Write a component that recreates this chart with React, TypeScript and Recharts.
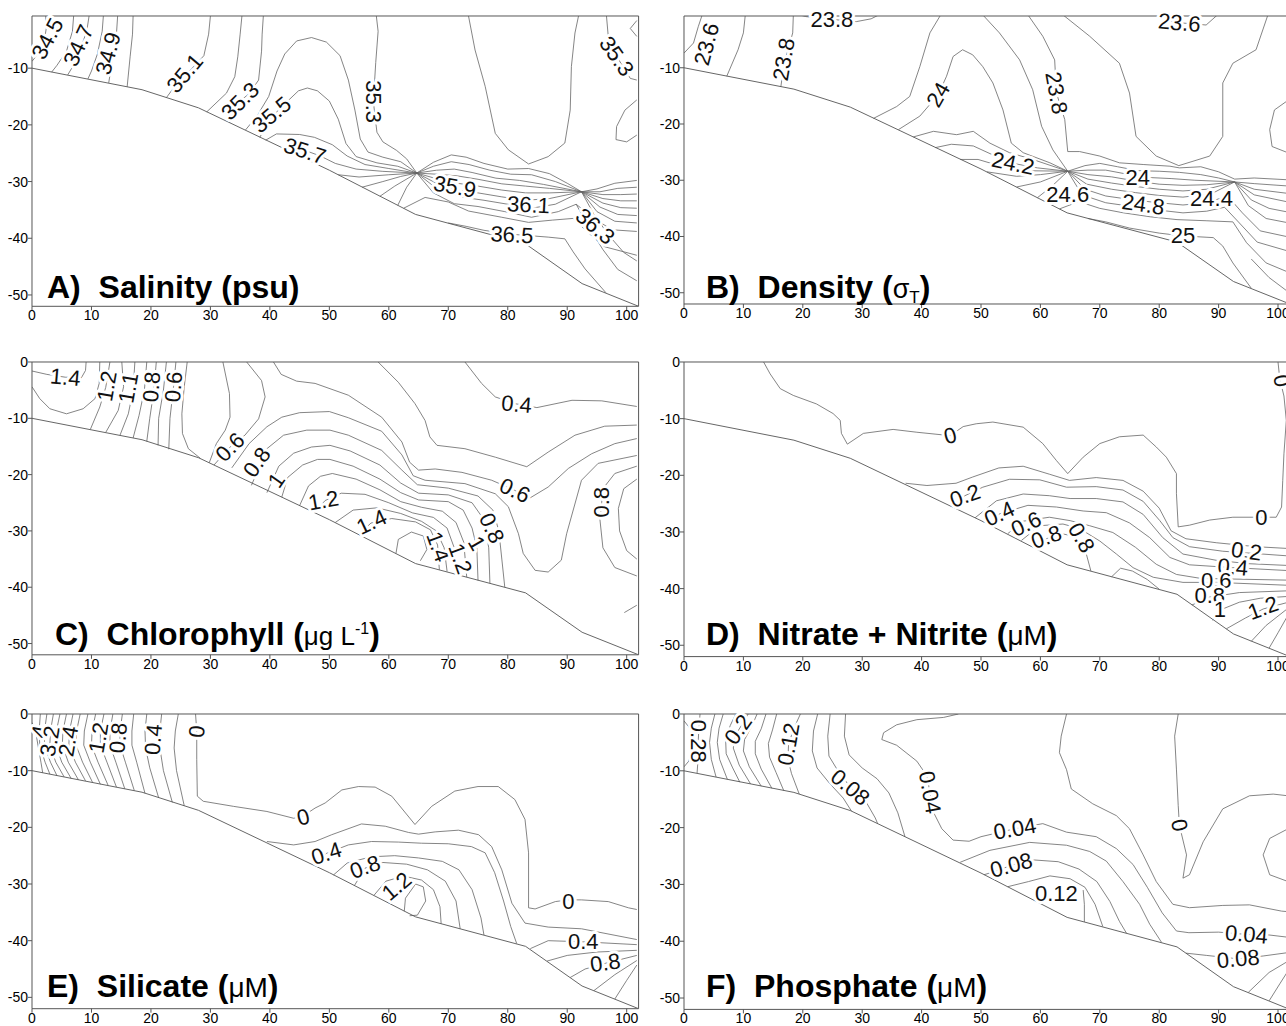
import React from 'react';
import { LineChart, Line, XAxis, YAxis, ReferenceDot } from 'recharts';

type Pt = [number, number];
// [label text, distance, depth, rotation in degrees]
type Tag = [string, number, number, number];

const distanceTicks = [0, 10, 20, 30, 40, 50, 60, 70, 80, 90, 100];
const upperDepthTicks = [-50, -40, -30, -20, -10];
const depthTicks = [-50, -40, -30, -20, -10, 0];

// Sea floor along the transect (distance, depth)
const seafloor: Pt[] = [[0, -10], [18.5, -13.8], [28, -17], [50, -28], [64.5, -35.8], [83, -41], [92.5, -48], [102, -52]];

// ---------- A) Salinity ----------
const salinityContours: Pt[][] = [
  [[2.3, -0.8], [2.4, -3], [2.0, -5.5], [1.0, -7.5], [0, -8.8]],
  [[7.0, -0.8], [6.8, -3.5], [5.8, -7], [4.2, -9.5], [3.3, -10.7]],
  [[9.6, -0.8], [9.2, -3.5], [8.0, -7], [6.8, -9.8], [6.0, -11.2]],
  [[12.0, -0.8], [11.8, -3.5], [11.0, -7.5], [10.0, -10.5], [9.4, -11.9]],
  [[14.4, -0.8], [14.2, -4], [13.6, -8], [12.9, -12.6]],
  [[17.0, -0.8], [16.9, -4], [16.5, -8], [16.0, -13.3]],
  [[30, -0.8], [29.7, -4], [28.9, -7.8], [26.5, -10.5], [24.5, -12.5], [22.6, -15.2]],
  [[35.3, -0.8], [35, -4], [34.6, -8], [34.1, -11.5], [32.7, -14.4], [29.4, -17.7]],
  [[38.9, -0.8], [38.7, -4], [38.6, -7], [38.1, -12.1], [36.5, -14.5], [35, -15.8], [33.8, -17.5], [33.3, -19.6]],
  [[35.9, -20.9], [37.8, -18.5], [39.8, -15], [41.2, -10.5], [42.5, -7.5], [44.5, -5.2], [47, -4.6], [49.5, -5.4], [51.8, -7.8], [53.2, -12.1], [54.3, -17.4], [55.2, -22.5], [56.5, -24.8], [59, -25.7], [62, -26.5], [64.7, -28.5]],
  [[38.3, -22.2], [40.3, -18.6], [42.8, -16], [44.8, -14], [46.3, -13.5], [48, -14], [50, -15.8], [51.5, -19], [52.8, -23.3], [54.5, -25.6], [58, -26.7], [61.5, -27.3], [64.7, -28.5]],
  [[39.3, -22.7], [41.1, -21.6], [45, -21.7], [47.5, -22.2], [50.5, -23.5], [53, -25.5], [56, -27], [60, -27.7], [64.7, -28.5]],
  [[43, -24.5], [45.9, -24.5], [48.5, -25.5], [51, -26.8], [54.5, -27.8], [59, -28.2], [64.7, -28.5]],
  [[51.5, -28.8], [55, -29.2], [60, -28.8], [64.7, -28.5]],
  [[55.5, -31], [59, -30], [62, -29.1], [64.7, -28.5]],
  [[58.5, -32.6], [61, -30.8], [64.7, -28.5]],
  [[61.5, -34.2], [63, -31], [64.7, -28.5]],
  [[57.9, -0.8], [58.2, -3.5], [57.8, -9], [57.4, -15.9], [58, -21.3], [59, -23], [61.3, -24.5], [63, -26], [64.7, -28.5]],
  [[73.4, -0.8], [74.5, -6.8], [76.2, -13.2], [77.9, -21.5], [80.1, -24.4], [83.5, -26.9], [86.8, -25.6], [89.6, -23.2], [90.5, -17.4], [90.7, -9.7], [91.3, -3.8], [91.9, -0.8]],
  [[64.7, -28.5], [67.5, -26.6], [70.5, -25.3], [73, -25.7], [76, -26.8], [80, -27.8], [83.5, -27.7], [87, -28.6], [90, -30.3], [92.4, -31.8], [95, -31.3], [98, -30.3], [101.7, -29.8]],
  [[64.7, -28.5], [67.5, -27.3], [70.5, -26.5], [73.5, -27], [77, -28], [80.5, -28.7], [84, -28.8], [88, -30], [92.4, -31.8], [95.5, -31.8], [98.5, -31.2], [101.7, -31]],
  [[64.7, -28.5], [68, -28], [71, -27.8], [74, -28.4], [78, -29.4], [82, -29.8], [86, -30.5], [92.4, -31.8], [96, -32.3], [99, -32.3], [101.7, -32.2]],
  [[64.7, -28.5], [68, -28.7], [71.5, -29], [75, -29.6], [79, -30.4], [83, -30.8], [87, -31.2], [92.4, -31.8], [96, -33], [99, -33.4], [101.7, -33.4]],
  [[64.7, -28.5], [68, -29.5], [71.5, -30.3], [75, -30.8], [79, -31.5], [83, -32], [87, -32], [92.4, -31.8], [96, -33.8], [99, -34.6], [101.7, -34.7]],
  [[64.7, -28.5], [68, -30.3], [71.5, -31.5], [75, -32], [79, -32.7], [83, -33.3], [87, -33], [92.4, -31.8], [95.5, -34.5], [98.5, -35.8], [101.7, -36]],
  [[64.7, -28.5], [68, -31.2], [72, -32.7], [76, -33.3], [80, -34], [84, -34.7], [88, -34], [92.4, -31.8], [95, -35.3], [98, -37], [101.7, -37.3]],
  [[64.7, -28.5], [67.5, -32], [71, -33.9], [75, -34.4], [79.5, -35.3], [84, -36.3], [88.5, -35.3], [91.5, -34], [94.5, -36.5], [97.5, -38.5], [101.7, -38.8]],
  [[62.5, -34.7], [66.1, -32.8], [70, -33.6], [73.4, -35.2], [79, -36.3], [83.5, -37.2], [87.5, -36.8], [91, -36.5], [93.5, -39], [96.3, -41.5], [101.7, -43]],
  [[70, -37.3], [73, -37.9], [76, -38.6], [80.7, -39.3], [86.8, -39.8], [89.6, -40.1], [91, -42.4], [93, -45.4], [96.5, -49.6]],
  [[92.4, -31.8], [94.5, -35.8], [97, -39.5], [99.5, -42.5], [101.7, -44]],
  [[91.5, -34], [93.5, -37.8], [96, -42], [98.5, -45.5], [101.7, -47.5]],
  [[96.6, -0.8], [96.9, -4.4], [98.3, -7.9], [100.6, -11.8], [101.7, -12.1]],
  [[101.7, -15.6], [99.7, -17.4], [98.3, -20.3], [98.2, -22.6], [100, -23], [101.7, -21.8]],
  [[101.7, -1.6], [100.6, -3], [101.7, -4.4]],
];
const salinityTags: Tag[] = [
  ['34.5', 2.6, -4.8, -62], ['34.7', 7.8, -6.0, -65], ['34.9', 12.8, -7.4, -75],
  ['35.1', 25.7, -10.9, -50], ['35.3', 35.0, -15.8, -45], ['35.5', 40.3, -18.2, -40],
  ['35.7', 45.9, -24.6, 18], ['35.3', 57.4, -15.9, 90], ['35.9', 71.1, -30.9, 10],
  ['36.1', 83.5, -34.1, 3], ['36.5', 80.7, -39.4, 3], ['36.3', 94.7, -37.9, 40],
  ['35.3', 98.3, -7.9, 55],
];

// ---------- B) Density ----------
const densityContours: Pt[][] = [
  [[3, -0.8], [2.4, -2.7], [1.6, -5.6], [0, -7.4]],
  [[10.3, -0.8], [10, -3.8], [9.1, -6.8], [7.2, -11.5]],
  [[18.4, -0.8], [18.3, -3.8], [17.6, -6.5], [16.9, -9], [16.3, -13.4]],
  [[18.8, -0.4], [20.5, -0.9], [24.9, -1.4], [29, -1.8], [31.5, -1.3], [33, -0.5]],
  [[31.9, -19], [35.8, -16.9], [38, -15.1], [39.7, -9.8], [41.4, -3.8], [43.1, -0.8]],
  [[36.1, -21], [39.7, -18.6], [42.8, -14.8], [44.2, -11.5], [45.3, -8], [46.9, -6.8], [48.6, -7.7], [50.3, -9.8], [52, -12.7], [53.7, -17.5], [55.1, -23.4], [57.1, -25.1], [61.6, -26.9], [64.6, -28.4]],
  [[50.3, -0.6], [53.1, -3.8], [56.5, -8.6], [58.7, -13.9], [60.2, -20.4], [62.1, -24.6], [64.6, -28.4]],
  [[57.9, -0.6], [60.4, -4.4], [62.4, -8.6], [62.7, -14.5], [64.1, -19.2], [64.6, -24.9], [66.6, -24.9], [70, -25.7], [73.3, -26.9], [77.3, -27.2], [81.8, -27.5], [83.4, -27.8], [87, -27.6], [90, -28.5], [92.7, -29.8], [96, -29.6], [101.4, -29.9]],
  [[63.8, -0.6], [68.3, -4.4], [73.3, -9.2], [75, -14.5], [76.1, -22.2], [79.5, -25.7], [83.3, -27.4], [88.5, -25.7], [90.7, -22.2], [90.7, -12.7], [92.4, -9.2], [96.3, -6.8], [98.3, -0.6]],
  [[79.5, -0.5], [80.6, -1.5], [83.4, -2.0], [87.9, -2.4], [89.6, -0.8], [90, -0.4]],
  [[101.4, -16], [99.4, -17.5], [98.6, -21], [99, -24], [101.4, -25]],
  [[38.6, -22.3], [42, -21.3], [45.9, -21.9], [48.7, -21.3], [51.5, -23.4], [54.8, -25.1], [58.7, -26.3], [64.6, -28.4]],
  [[42.3, -24.2], [45, -23.6], [48.7, -23.9], [52, -25.5], [55.4, -27], [59.5, -27.8], [64.6, -28.4]],
  [[46.5, -26.3], [49.5, -26.3], [53, -27.4], [57.5, -28.3], [64.6, -28.4]],
  [[51, -28.5], [56, -29.3], [60, -29], [64.6, -28.4]],
  [[56, -31.2], [60, -30.3], [64.6, -28.4]],
  [[59.5, -33.1], [62, -31], [64.6, -28.4]],
  [[64.6, -28.4], [67.5, -27.4], [70, -27], [73, -27.6], [76.5, -28.3], [80, -28.4], [83.4, -28.6], [87, -29], [90, -29.6], [92.7, -30.3], [96, -30.6], [101.4, -31]],
  [[64.6, -28.4], [68, -28.2], [71, -28.2], [74, -28.8], [78, -29.5], [82, -29.7], [86, -30], [92.7, -30.3], [96, -31.6], [101.4, -32.3]],
  [[64.6, -28.4], [68, -29], [72, -29.4], [76.4, -30.2], [80, -30.7], [84, -30.9], [88, -30.8], [92.7, -30.3], [96, -32.6], [101.4, -33.8]],
  [[64.6, -28.4], [68, -29.8], [72, -30.5], [76, -31.1], [80, -31.6], [84, -31.9], [88, -31.6], [92.7, -30.3], [95.5, -33.5], [98.5, -35], [101.4, -35.6]],
  [[64.6, -28.4], [67.8, -30.7], [72, -31.6], [76, -32.2], [80, -32.7], [84, -33], [88.8, -32.4], [92.7, -30.3], [95, -34.5], [98, -36.8], [101.4, -37.5]],
  [[64.6, -28.4], [67.5, -31.6], [71, -32.8], [75, -33.4], [79, -33.9], [84, -34.4], [88, -34], [91.5, -32.8], [94, -35.8], [97, -39], [101.4, -40]],
  [[64.6, -28.4], [67, -32.6], [71, -34], [75, -34.6], [79, -35.2], [84, -35.8], [88, -35.5], [91, -34.8], [93.5, -37.6], [96.5, -41], [101.4, -42.5]],
  [[63.2, -35.1], [66.5, -33.8], [70, -35], [74, -35.8], [78.5, -36.5], [83, -37], [87.9, -37.2], [92.4, -37.4], [94.7, -41.1], [98, -44.7], [101.4, -46.2]],
  [[68, -36.8], [71, -37.4], [75, -38.5], [80, -39.4], [84, -39.9], [89.1, -40.2], [90.7, -41.7], [92.4, -44.7], [95.5, -49.2]],
  [[95.5, -44], [98.5, -47.3], [101.4, -49.6]],
];
const densityTags: Tag[] = [
  ['23.6', 3.8, -5.8, -75], ['23.8', 16.8, -8.5, -80], ['23.8', 24.9, -1.5, 0],
  ['24', 42.8, -14.8, -60], ['23.8', 62.7, -14.5, 80], ['23.6', 83.4, -2.0, 5],
  ['24.2', 55.4, -27, 12], ['24.6', 64.6, -32.5, 0], ['24', 76.4, -29.6, 0],
  ['24.8', 77.3, -34.3, 8], ['24.4', 88.8, -33.3, 0], ['25', 84, -39.9, 0],
];

// ---------- C) Chlorophyll ----------
const chlorophyllContours: Pt[][] = [
  [[0, -1.6], [2.5, -2.2], [5.6, -2.7], [8.3, -2.8], [9, -1.5], [9.1, 0]],
  [[0, -4.4], [1.3, -6.5], [3, -8.3], [5.8, -9.2], [8.6, -8.3], [10.6, -6.5], [11.3, -3.8], [11.4, 0]],
  [[13.1, 0], [12.8, -2], [12.4, -4.5], [11.4, -8], [9.8, -12]],
  [[15.1, 0], [15.4, -4.4], [14.5, -8.6], [12.4, -12.5]],
  [[17.3, 0], [17.0, -5], [16.2, -9.2], [14.8, -13]],
  [[19.3, 0], [18.9, -5], [18.0, -9.5], [17.0, -13.5]],
  [[20.9, 0], [20.5, -5], [19.8, -10], [19.3, -14.1]],
  [[22.6, 0], [22.1, -5], [21.3, -10], [21.2, -14.8]],
  [[24.2, 0], [23.8, -4.4], [23.2, -10], [23, -15.5]],
  [[26.1, 0], [25.6, -4.4], [25.2, -9.2], [25.3, -12.7], [26.3, -15.4], [28.3, -17.1]],
  [[32.1, 0], [33.2, -5.6], [33.3, -9.8], [32.5, -12.1], [31, -14.5], [29.8, -17.9]],
  [[36.1, 0], [38.6, -3.3], [39.2, -6.2], [38.1, -10.1], [35.8, -13], [33.3, -15.1], [30.6, -18.3]],
  [[33.6, -18.8], [36.5, -14.5], [39.5, -11.5], [42, -9.8], [45, -9], [50, -8.8], [53.2, -9.9], [58.8, -12.3], [62.2, -16.5], [64.1, -20.2], [66.1, -21], [72.8, -21.6], [77.9, -23.4], [80.1, -25.7], [81.8, -30.5], [82.6, -34], [84.6, -37], [86.8, -37.3], [89, -35.2], [89.9, -30.5], [92.4, -21], [95.2, -18], [101.7, -16.6]],
  [[40.6, 0], [41.9, -2.2], [44.5, -3.4], [47.6, -3.8], [53.2, -5.9], [58.8, -9.8], [62.2, -14.2], [63.5, -17.8], [65, -19.2], [67.8, -19], [72.3, -19.6], [77.3, -21], [81.2, -22.8], [83.5, -24.3], [86.8, -22.2], [90.2, -18.9], [94.1, -16.3], [98, -14.5], [101.7, -13.6]],
  [[58.2, 0], [61.6, -3.6], [64.4, -7.4], [66.1, -10.4], [66.9, -13.3], [68.1, -14.8], [72.8, -15.4], [77.9, -16.9], [83.2, -18.6], [86.8, -16], [91.3, -13], [96.3, -11.4], [101.7, -11.2]],
  [[72.8, 0], [75.6, -3.8], [77.9, -6.2], [81.2, -7.4], [84.9, -8.1], [90.8, -6.8], [95.8, -6.9], [101.7, -7.9]],
  [[36.9, -21.9], [39.5, -15.4], [42.3, -13], [46.2, -12.1], [50.1, -12.1], [53.2, -13], [58.8, -15.7], [62.2, -19.2], [64.8, -21.8], [70, -22.4], [75, -23.8], [77.5, -26.3], [78.5, -30], [79, -35], [79.5, -40]],
  [[39.5, -23.2], [41.5, -18.5], [44, -16.2], [47, -15.1], [50.1, -14.8], [53.5, -15.8], [58.5, -18.3], [62, -21.5], [65, -23.3], [70, -23.6], [74, -25], [76, -28], [76.8, -33], [77, -39.3]],
  [[42, -24], [43, -20.5], [45.5, -18.3], [48, -17.3], [50.1, -17.3], [54, -18.5], [58.5, -20.8], [62, -23.2], [65, -24.5], [70, -24.8], [72.5, -26.3], [74, -29.5], [74.8, -33], [75, -38.8]],
  [[45, -25.5], [46.5, -22], [48.5, -20.3], [50.5, -19.8], [54.5, -20.8], [58.5, -22.7], [62, -24.8], [65.5, -25.8], [69, -26.5], [71.3, -28.5], [72.6, -32], [73.1, -38.2]],
  [[47.5, -26.7], [49.3, -24.6], [52, -23.3], [56, -23.5], [60, -25], [64, -26.8], [67.5, -27.6], [69.8, -29.5], [71, -33], [71.4, -37.6]],
  [[51, -28.5], [54, -26.3], [58, -25.9], [62, -26.9], [65.5, -28.3], [68, -30], [69.3, -33], [69.8, -37.2]],
  [[55, -30.6], [57, -28.6], [60.5, -27.8], [64.5, -28.4], [67, -29.8], [68.2, -32.5], [68.5, -36.9]],
  [[61.2, -34.0], [61.6, -31.5], [63.8, -30.2], [65.8, -30.9], [66.4, -33.3], [65.3, -35.3]],
  [[101.7, -18.5], [98, -19.8], [96, -22.5], [95.8, -24.9], [95.5, -28], [96, -33], [98, -36.5], [101.7, -38]],
  [[101.7, -20.8], [99.5, -22.5], [98.6, -26], [98.8, -30], [100, -33.5], [101.7, -35]],
  [[99.6, -44.5], [101.7, -43.2]],
];
const chlorophyllTags: Tag[] = [
  ['1.4', 5.6, -2.7, 5], ['1.2', 12.6, -4.3, -80], ['1.1', 16.2, -4.6, -80],
  ['0.8', 20.1, -4.4, -85], ['0.6', 23.8, -4.4, -85], ['0.6', 33.3, -15.1, -45],
  ['0.8', 37.8, -17.8, -55], ['1', 41.1, -21, -55], ['1.2', 49, -24.6, -10],
  ['1.4', 57.1, -28.4, -25], ['1.4', 68.3, -32.8, 70], ['1.2', 72, -34.9, 70],
  ['1', 74.8, -32.2, 60], ['0.8', 77.3, -29.5, 65], ['0.6', 81.2, -22.8, 25],
  ['0.4', 81.5, -7.5, 5], ['0.8', 95.8, -24.9, -90],
];

// ---------- D) Nitrate + Nitrite ----------
const nitrateContours: Pt[][] = [
  [[13.4, 0], [14.5, -2.1], [16.2, -4.7], [18.4, -5.9], [22.3, -7.4], [25.1, -9.1], [26.3, -10.3], [26.5, -12.6], [27.5, -14.5], [30.2, -12.6], [35.2, -11.9], [39.2, -12.4], [44.8, -13.0], [47, -11.4], [49.2, -10.9], [52, -10.6], [57.1, -11.5], [60.4, -14.4], [62.7, -17.4], [64.6, -19.7], [67.2, -16.8], [70, -14.4], [73.3, -13.2], [77.3, -12.9], [79.5, -15], [81.2, -16.8], [82.9, -19.7], [82.9, -23.2], [83.2, -29.1], [85.1, -28.8], [88.5, -27.9], [92.4, -27.4], [97.2, -27.4], [99.7, -27.4], [100.6, -25.6], [100.8, -20.9], [101, -16.2], [101.4, -10.3], [101, -6], [100.3, -3], [100, 0]],
  [[37.3, -21.4], [40.9, -21.8], [45.8, -21.4], [48.6, -20.3], [53, -18.7], [57.1, -18.4], [61.5, -19.8], [64.9, -20.9], [69.4, -20.4], [73.9, -20.9], [77.3, -22.8], [80, -25.8], [82, -29.8], [84.5, -31.2], [89.6, -31.9], [96.3, -32.6], [101.4, -32.9]],
  [[45, -25.5], [47.3, -23.6], [50.3, -22.1], [54.8, -20.7], [59.9, -20.8], [64.4, -22.1], [69.4, -22], [73.9, -22.6], [77.3, -24.6], [80.1, -28], [82.3, -31], [85.1, -32.6], [90.7, -33.4], [94.7, -33.7], [101.4, -34.2]],
  [[49, -27.5], [52.6, -24.5], [57.1, -23.3], [61.5, -23.6], [65, -24.1], [69.4, -24.1], [73.9, -24.7], [77.3, -26.9], [80.6, -31], [84, -33.9], [89.6, -35], [95, -35.6], [101.4, -35.9]],
  [[51.5, -28.8], [53.1, -26.8], [57.9, -25.3], [62.7, -25.6], [67.2, -26.3], [71.1, -26.6], [75, -28.4], [78.4, -31], [81.8, -34.5], [85.1, -35.8], [92.4, -36.3], [101.4, -36.8]],
  [[54.5, -30.3], [57.1, -28.1], [61.5, -27.4], [65, -28], [68.3, -28.9], [72.2, -30.1], [76, -32.7], [79.5, -35.7], [82.9, -37.5], [87, -38.2], [101.4, -38.5]],
  [[56.8, -31.5], [59.9, -28.9], [63.8, -28.6], [66.6, -29.4], [70, -31.6], [72.8, -33.9], [75.6, -36.3], [79, -38], [84, -38.9], [89.6, -38.9], [101.4, -39.4]],
  [[59.5, -33.1], [61, -31.2], [63.5, -30.3], [66, -30.8], [67.5, -33], [68.5, -36.9]],
  [[72, -37.9], [73.5, -36.4], [75.5, -36.9], [78, -38.4], [80, -40.1]],
  [[85.5, -42.9], [88.5, -41.5], [93.5, -40.7], [101.4, -40.4]],
  [[89, -45.6], [90.2, -43.8], [93.5, -42.4], [97, -41.7], [101.4, -41.4]],
  [[91.3, -47.1], [94.5, -45.2], [97.5, -43.6], [101.4, -42.5]],
  [[95.5, -49.3], [98, -46.5], [101.4, -43.7]],
  [[98.5, -50.5], [100, -47.8], [101.4, -45.2]],
];
const nitrateTags: Tag[] = [
  ['0', 44.8, -13.0, -15], ['0.2', 47.3, -23.6, -20], ['0.4', 53.1, -26.8, -25],
  ['0.6', 57.6, -28.6, -25], ['0.8', 61, -30.9, -20], ['0.8', 66.9, -31, 60],
  ['0', 97.2, -27.4, 0], ['0.2', 94.7, -33.4, 8], ['0.4', 92.4, -36.2, 5],
  ['0.6', 89.6, -38.6, 0], ['0.8', 88.5, -41.2, 0], ['1', 90.2, -43.6, 0],
  ['1.2', 97.5, -43.4, -20], ['0', 100.6, -3.3, 80],
];

// ---------- E) Silicate ----------
const silicateContours: Pt[][] = [
  [[0, -1.5], [0.6, -3], [1.0, -5.5], [1.5, -8.5], [1.8, -10.4]],
  [[1.4, 0], [1.2, -3], [1.3, -5.5], [2.2, -8.5], [3.0, -10.6]],
  [[2.5, 0], [2.1, -3], [2.1, -5.5], [3.1, -8.5], [4.2, -10.9]],
  [[3.6, 0], [3.1, -3], [3.0, -5.5], [4.0, -8.5], [5.4, -11.1]],
  [[4.7, 0], [4.1, -3], [4.0, -5.5], [5.0, -8.5], [6.6, -11.4]],
  [[5.8, 0], [5.2, -3], [5.1, -5.5], [6.1, -8.5], [7.8, -11.6]],
  [[6.9, 0], [6.3, -3], [6.2, -5.5], [7.3, -8.5], [9.0, -11.8]],
  [[8.1, 0], [7.5, -3], [7.4, -5.5], [8.5, -8.5], [10.2, -12.1]],
  [[9.4, 0], [8.8, -3], [8.7, -5.5], [9.8, -8.5], [11.5, -12.4]],
  [[10.7, 0], [10.1, -3], [10.0, -5.5], [11.1, -8.5], [12.8, -12.6]],
  [[12.1, 0], [11.5, -3], [11.5, -5.5], [12.6, -8.5], [14.2, -12.9]],
  [[13.6, 0], [13.1, -3], [13.1, -5.5], [14.1, -8.5], [15.6, -13.2]],
  [[15.2, 0], [14.8, -3], [14.8, -5.5], [15.7, -8.5], [17.2, -13.5]],
  [[17.1, 0], [16.8, -3], [16.8, -5.5], [17.6, -8.5], [19.0, -14.0]],
  [[19.3, 0], [19.0, -3], [19.1, -6], [19.8, -9.5], [21.3, -14.8]],
  [[21.8, 0], [21.5, -3], [21.5, -6], [22.1, -10], [23.6, -15.6]],
  [[24.6, 0], [24.1, -3], [23.9, -6], [24.3, -10], [25.6, -16.2]],
  [[27.5, 0], [27.7, -3], [27.7, -8], [27.8, -14.5], [28.8, -15.4], [33.9, -16.3], [39.5, -17.2], [44, -18.4], [45.6, -18], [47.6, -16.6], [49.3, -15.7], [52.1, -13.4], [54.9, -12.8], [57.7, -12.9], [60.5, -14.5], [64.4, -19.5], [67.2, -16.3], [71.1, -13.6], [75, -12.8], [78.4, -12.8], [81.2, -15.1], [82.9, -18.6], [83.5, -24.5], [83.5, -34.2], [84.6, -34.4], [88, -33.1], [90.2, -32.8], [92.4, -32.8], [96.9, -33.1], [100.3, -34.2], [101.7, -34.5]],
  [[39.5, -22.5], [44, -23.1], [47.6, -22.5], [50.4, -21.3], [55.4, -19.4], [59.4, -19.8], [63.3, -20.9], [65, -21.2], [67.8, -20.8], [71.7, -20.5], [75.1, -21.3], [77.3, -23.4], [79, -27.5], [80.7, -33.4], [82.9, -36.9], [86.8, -37.6], [92.4, -37.9], [101.7, -39.8]],
  [[47.6, -26.6], [49.5, -24.6], [53.2, -23.1], [57.1, -22.5], [61.6, -22.6], [65.5, -22.8], [70, -22.9], [73.9, -23.4], [76.2, -24.5], [77.8, -28], [79.3, -33], [80.5, -37.5], [81.5, -40.5]],
  [[50.7, -28.4], [53, -26.3], [57, -25.2], [61, -25], [65, -25.4], [69, -26], [71.8, -27.5], [74, -31], [75.5, -36], [76, -39]],
  [[54.2, -30.3], [56, -27.2], [59, -26.2], [63, -26.5], [66.5, -27.5], [69.5, -29.5], [71.3, -33], [72, -37.9]],
  [[57.5, -32], [59.5, -29.5], [62.5, -28.6], [65.5, -29.3], [67.5, -31], [68.6, -34], [68.8, -37]],
  [[62.6, -34.8], [62.8, -32.5], [64.5, -30], [65.8, -30.5], [66.2, -33], [64.8, -35.5], [63.5, -35.6]],
  [[83.8, -41.4], [86.8, -40], [92.7, -40.2], [101.7, -40.7]],
  [[86.6, -43.6], [90, -42.6], [95, -42], [101.7, -41.7]],
  [[90.5, -46.5], [93, -45], [96.4, -44], [101.7, -42.6]],
  [[94.5, -48.8], [98, -46], [101.7, -43.5]],
  [[98, -50.3], [100, -47], [101.7, -44.3]],
];
const silicateTags: Tag[] = [
  ['4', 1.3, -3.1, -80], ['3.2', 3.0, -4.8, -80], ['2.4', 6.1, -4.8, -80],
  ['1.2', 11.2, -4.2, -80], ['0.8', 14.5, -4.2, -85], ['0.4', 20.4, -4.5, -85],
  ['0', 27.7, -3.1, -85], ['0', 45.6, -18.2, -15], ['0.4', 49.5, -24.6, -18],
  ['0.8', 56, -27, -20], ['1.2', 61.3, -30.4, -40], ['0', 90.2, -33.1, 0],
  ['0.4', 92.7, -40.2, 0], ['0.8', 96.4, -43.9, -8],
];

// ---------- F) Phosphate ----------
const phosphateContours: Pt[][] = [
  [[0, -1.2], [1.2, -2.8], [1.6, -5.5], [0.8, -8.3], [0, -9.3]],
  [[2.7, 0], [2.5, -2.5], [2.4, -4.8], [2.4, -7.5], [2.2, -10.4]],
  [[5.2, 0], [4.6, -2.5], [4.3, -5], [4.6, -8], [5.4, -11.1]],
  [[6.6, 0], [5.9, -2.5], [5.6, -5], [6.0, -8], [7.3, -11.5]],
  [[8.7, 0], [7.8, -2], [7.0, -4.2], [7.1, -7], [8.2, -9.5], [9.4, -12]],
  [[10.8, 0], [9.8, -1.8], [8.6, -3.8], [8.3, -6], [9.3, -9], [11.2, -12.3]],
  [[12.3, 0], [11.4, -2.2], [10.2, -4.5], [10.0, -6.5], [11.0, -9.3], [13.0, -12.7]],
  [[13.8, 0], [13.0, -2.6], [12.0, -4.8], [12.0, -7], [13.0, -9.7], [14.8, -13.1]],
  [[15.6, 0], [14.9, -2.8], [14.2, -5.2], [14.4, -7.6], [15.5, -10.3], [16.8, -13.5]],
  [[19.6, 0], [18.5, -2.5], [17.6, -5.3], [17.5, -8], [18.1, -10.5], [19.4, -14.1]],
  [[22.5, 0], [21.8, -3], [21.6, -6.5], [22.4, -9.5], [24.5, -12.2], [26.8, -14.8], [28.2, -17.1]],
  [[24.6, 0], [24.2, -3.9], [24.4, -7.4], [25.8, -9.8], [28, -12.9], [30.5, -15.2], [32.2, -18.3], [32.6, -19.3]],
  [[27.2, 0], [27.0, -3.9], [27.8, -7.2], [30, -9.5], [32.5, -11.4], [34.5, -13.9], [36, -17.4], [37.2, -21.6]],
  [[46.2, 0], [43.7, -0.6], [39.2, -1], [35.8, -1.9], [33.6, -3.3], [33.3, -4.5], [35.8, -5.5], [39.2, -8.3], [40.9, -10.9], [41.4, -13.8], [42, -17.3], [43.4, -20.2], [45.3, -22.2], [48, -22.4], [50, -21.6], [55.7, -20.2], [60.4, -19.3], [64.4, -20.8], [69.4, -21.6], [72.8, -23.7], [75.6, -26.5], [78, -30.5], [80.5, -35], [82.9, -38.2], [85, -38.5], [90, -38.4], [94.7, -38.8], [98.5, -38.9], [101.7, -39.3]],
  [[64.4, 0], [63.5, -3.9], [63.2, -6.8], [64.4, -9.8], [65.2, -13.2], [68.8, -15.8], [72.8, -17.9], [75, -20.2], [77.3, -24.8], [79.5, -29.5], [82.3, -33.5], [85.1, -34.1], [90.7, -33.7], [95.2, -33.6], [100.6, -34.7], [101.7, -34.8]],
  [[83.2, 0], [82.6, -3.9], [82.9, -9.7], [83.2, -16.1], [83.4, -19.6], [84.6, -24.8], [84, -28.9], [85.1, -28.3], [87.4, -22.5], [90.7, -16.7], [95.2, -14.4], [99.2, -14.1], [101.7, -14.4]],
  [[101.7, -20.2], [98.6, -21.9], [97.5, -24.8], [98.6, -28.3], [101.7, -29.5]],
  [[46.5, -26.1], [51.5, -24], [58.2, -22.6], [64.4, -23.1], [68.3, -24.2], [71.1, -25.9], [73.9, -29.5], [76.7, -33.5], [78.4, -37], [80.4, -40.2]],
  [[50.5, -28.3], [53, -27.5], [55.1, -26.6], [59, -25.7], [63, -26], [66.5, -27.3], [69.5, -29.5], [71.7, -33], [73.3, -36.5], [74.5, -38.6]],
  [[54.5, -30.4], [58, -29.5], [61.6, -28.5], [65, -29], [67.5, -30.5], [69.2, -33.5], [70.5, -37.4]],
  [[67.2, -31], [67.4, -33.5], [67.4, -36.6]],
  [[84.5, -42.1], [88, -42.5], [93.3, -43.1], [97.5, -42.6], [101.7, -42]],
  [[95, -49], [98.5, -45.5], [101.7, -43.5]],
  [[98.5, -50.5], [100.3, -47.5], [101.7, -45.2]],
];
const phosphateTags: Tag[] = [
  ['0.28', 2.4, -4.8, 90], ['0.2', 9.1, -2.7, -55], ['0.12', 17.6, -5.3, -80],
  ['0.08', 28, -12.9, 40], ['0.04', 41.4, -13.8, 80], ['0.04', 55.7, -20.2, -10],
  ['0.08', 55.1, -26.6, -15], ['0.12', 62.7, -31.6, 0], ['0', 83.4, -19.6, 80],
  ['0.04', 94.7, -38.8, 5], ['0.08', 93.3, -43.1, -5],
];

const FONT = '"Liberation Sans", Arial, Helvetica, sans-serif';
const toRows = (pts: Pt[]) => pts.map(([x, y]) => ({ x, y }));

function ContourTag({ cx, cy, text, angle }: { cx?: number; cy?: number; text: string; angle: number }) {
  if (cx == null || cy == null || Number.isNaN(cx) || Number.isNaN(cy)) return <g />;
  return (
    <text
      x={cx}
      y={cy}
      transform={`rotate(${angle} ${cx} ${cy})`}
      textAnchor="middle"
      dominantBaseline="central"
      fontFamily={FONT}
      fontSize={22}
      fill="#111"
      stroke="#fff"
      strokeWidth={6}
      strokeLinejoin="round"
      paintOrder="stroke"
    >
      {text}
    </text>
  );
}

type SectionProps = {
  left: number;
  top: number;
  width: number;
  height: number;
  yTop: number;
  yTicks: number[];
  contours: Pt[][];
  tags: Tag[];
};

function Section({ left, top, width, height, yTop, yTicks, contours, tags }: SectionProps) {
  const axisColor = '#555';
  const tickStyle = { fill: '#000', fontSize: 14, fontFamily: FONT };
  return (
    <div style={{ position: 'absolute', left: left - 36, top: top - 8 }}>
      <LineChart width={width + 44} height={height + 32} margin={{ top: 2, right: 2, bottom: 0, left: 0 }}>
        <XAxis dataKey="x" type="number" domain={[0, 102]} allowDataOverflow ticks={distanceTicks} interval={0}
          height={24} tickSize={4} tickMargin={0} stroke={axisColor} tick={tickStyle} />
        <XAxis xAxisId="top" orientation="top" dataKey="x" type="number" domain={[0, 102]} allowDataOverflow
          ticks={distanceTicks} interval={0} height={6} tickSize={4} stroke={axisColor} tick={false} />
        <YAxis type="number" domain={[-52, yTop]} allowDataOverflow ticks={yTicks} interval={0}
          width={36} tickSize={4} tickMargin={0} stroke={axisColor} tick={tickStyle} />
        <YAxis yAxisId="right" orientation="right" type="number" domain={[-52, yTop]} allowDataOverflow
          ticks={yTicks} interval={0} width={6} tickSize={4} stroke={axisColor} tick={false} />
        {contours.map((c, i) => (
          <Line key={`c${i}`} data={toRows(c)} dataKey="y" type="linear" stroke="#666" strokeWidth={0.8}
            dot={false} activeDot={false} isAnimationActive={false} legendType="none" />
        ))}
        <Line key="floor" data={toRows(seafloor)} dataKey="y" type="linear" stroke="#555" strokeWidth={0.9}
          dot={false} activeDot={false} isAnimationActive={false} legendType="none" />
        {tags.map(([text, x, y, angle], i) => (
          <ReferenceDot key={`t${i}`} x={x} y={y} r={0} ifOverflow="hidden"
            shape={(p: any) => <ContourTag cx={p.cx} cy={p.cy} text={text} angle={angle} />} />
        ))}
      </LineChart>
    </div>
  );
}

const titleBase: React.CSSProperties = { whiteSpace: 'pre' };

export default function App() {
  return (
    <div style={{ position: 'fixed', left: 0, top: 0, width: 1286, height: 1026, overflow: 'hidden', background: '#fff', fontFamily: FONT }}>
      <Section left={32} top={16.1} width={606.6} height={290.3} yTop={-0.8} yTicks={upperDepthTicks} contours={salinityContours} tags={salinityTags} />
      <Section left={683.7} top={16} width={605.9} height={288} yTop={-0.8} yTicks={upperDepthTicks} contours={densityContours} tags={densityTags} />
      <Section left={32} top={361.7} width={606.6} height={292.8} yTop={0} yTicks={depthTicks} contours={chlorophyllContours} tags={chlorophyllTags} />
      <Section left={683.7} top={361.7} width={605.9} height={294.6} yTop={0} yTicks={depthTicks} contours={nitrateContours} tags={nitrateTags} />
      <Section left={32} top={714.3} width={606.6} height={294.7} yTop={0} yTicks={depthTicks} contours={silicateContours} tags={silicateTags} />
      <Section left={683.7} top={714.3} width={605.9} height={295.4} yTop={0} yTicks={depthTicks} contours={phosphateContours} tags={phosphateTags} />
      <svg width={1286} height={1026} style={{ position: 'absolute', left: 0, top: 0, pointerEvents: 'none' }}>
        <g fontFamily={FONT} fontWeight={700} fontSize={32} fill="#000">
          <text x={47} y={298} style={titleBase}>A)  Salinity (psu)</text>
          <text x={706} y={298} style={titleBase}>
            <tspan>B)  Density (</tspan>
            <tspan fontWeight={400} fontSize={27}>σ</tspan>
            <tspan fontWeight={400} fontSize={17} dy={5}>T</tspan>
            <tspan dy={-5}>)</tspan>
          </text>
          <text x={55} y={645} style={titleBase}>
            <tspan>C)  Chlorophyll (</tspan>
            <tspan fontWeight={400} fontSize={26}>μg L</tspan>
            <tspan fontWeight={400} fontSize={16} dy={-11}>-1</tspan>
            <tspan dy={11}>)</tspan>
          </text>
          <text x={706} y={645} style={titleBase}>
            <tspan>D)  Nitrate + Nitrite (</tspan>
            <tspan fontWeight={400} fontSize={28}>μM</tspan>
            <tspan>)</tspan>
          </text>
          <text x={47} y={997} style={titleBase}>
            <tspan>E)  Silicate (</tspan>
            <tspan fontWeight={400} fontSize={28}>μM</tspan>
            <tspan>)</tspan>
          </text>
          <text x={706} y={997} style={titleBase}>
            <tspan>F)  Phosphate (</tspan>
            <tspan fontWeight={400} fontSize={28}>μM</tspan>
            <tspan>)</tspan>
          </text>
        </g>
      </svg>
    </div>
  );
}
